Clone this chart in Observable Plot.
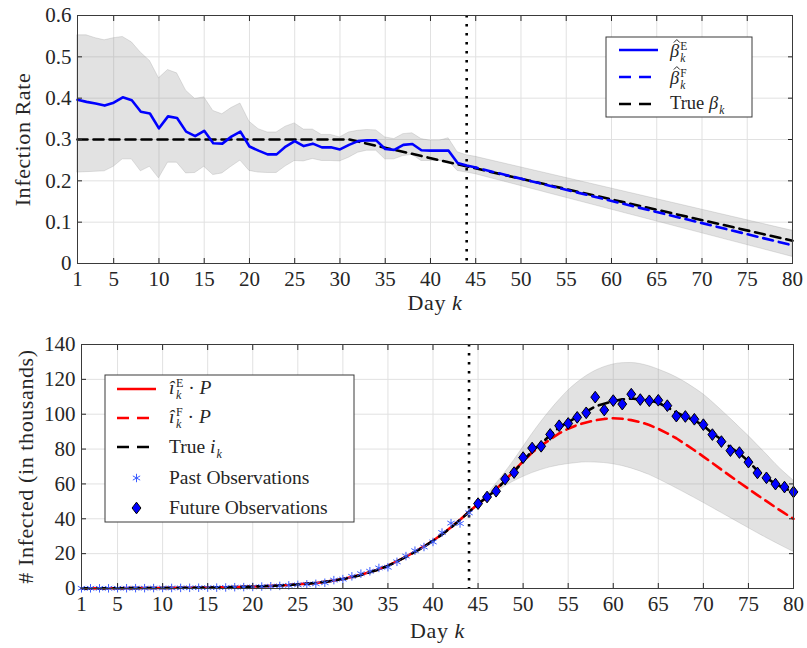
<!DOCTYPE html>
<html><head><meta charset="utf-8">
<script src="https://cdn.jsdelivr.net/npm/d3@7"></script>
<script src="https://cdn.jsdelivr.net/npm/@observablehq/plot@0.6"></script>
<style>
html,body{margin:0;padding:0;background:#fff;}
#wrap{position:relative;width:807px;height:648px;overflow:hidden;background:#fff;}
#wrap svg{display:block;}
#wrap svg text{font-family:"Liberation Serif","DejaVu Serif",serif;}
</style></head><body><div id="wrap"></div>
<script>
const FONT = '"Liberation Serif","DejaVu Serif",serif';
const splitDay = 44;
const xTicks = [1, 5, 10, 15, 20, 25, 30, 35, 40, 45, 50, 55, 60, 65, 70, 75, 80];
const betaTicks = [0, 0.1, 0.2, 0.3, 0.4, 0.5, 0.6];
const infTicks = [0, 20, 40, 60, 80, 100, 120, 140];

// ---- Top panel: infection rate ----
const betaEStart = 1; // days 1..45
const betaE = [0.396, 0.391, 0.387, 0.382, 0.389, 0.402, 0.395, 0.367, 0.363, 0.327,
  0.356, 0.352, 0.319, 0.308, 0.321, 0.291, 0.290, 0.307, 0.319, 0.283,
  0.273, 0.264, 0.264, 0.283, 0.296, 0.284, 0.290, 0.281, 0.281, 0.276,
  0.287, 0.296, 0.298, 0.298, 0.277, 0.275, 0.287, 0.289, 0.274, 0.273,
  0.273, 0.273, 0.243, 0.237, 0.232];
const betaFDays = [45, 80];
const betaF = [0.232, 0.044];
const trueBetaDays = [1, 31, 80];
const trueBeta = [0.3, 0.3, 0.055];
const betaBandDays = [1, 2, 3, 4, 5, 6, 7, 8, 9, 10, 11, 12, 13, 14, 15, 16, 17, 18, 19, 20,
  21, 22, 23, 24, 25, 26, 27, 28, 29, 30, 31, 32, 33, 34, 35, 36, 37, 38, 39, 40,
  41, 42, 43, 44, 45, 80];
const betaUpper = [0.552, 0.552, 0.545, 0.540, 0.545, 0.548, 0.535, 0.510, 0.490, 0.448,
  0.468, 0.460, 0.418, 0.398, 0.402, 0.369, 0.361, 0.376, 0.387, 0.343,
  0.325, 0.317, 0.317, 0.331, 0.339, 0.324, 0.324, 0.311, 0.311, 0.305,
  0.317, 0.321, 0.323, 0.322, 0.305, 0.301, 0.313, 0.315, 0.301, 0.297,
  0.297, 0.303, 0.269, 0.262, 0.258, 0.079];
const betaLower = [0.220, 0.221, 0.222, 0.223, 0.234, 0.252, 0.252, 0.223, 0.234, 0.206,
  0.244, 0.244, 0.218, 0.219, 0.234, 0.214, 0.218, 0.234, 0.249, 0.224,
  0.220, 0.219, 0.219, 0.235, 0.248, 0.247, 0.253, 0.248, 0.248, 0.247,
  0.256, 0.268, 0.273, 0.273, 0.252, 0.252, 0.260, 0.263, 0.248, 0.248,
  0.248, 0.248, 0.224, 0.220, 0.216, 0.016];

// ---- Bottom panel: infected (thousands) ----
const pastStart = 1; // days 1..44
const pastObs = [0.1, 0.1, 0.1, 0.1, 0.15, 0.15, 0.2, 0.2, 0.25, 0.3,
  0.3, 0.35, 0.4, 0.45, 0.5, 0.5, 0.6, 0.75, 0.8, 0.9,
  1.1, 1.3, 1.5, 1.8, 2.1, 2.4, 2.7, 3.3, 4.8, 5.4,
  7.0, 8.5, 9.9, 11.8, 12.2, 15.3, 18.6, 21.7, 23.8, 26.7,
  32.1, 37.5, 37.3, 43.4];
const futureStart = 45; // days 45..80
const futureObs = [48.7, 52.5, 55.8, 62.8, 66.5, 75.1, 80.6, 81.6, 88.4, 93.4,
  94.7, 98.2, 100.8, 109.8, 102.4, 107.8, 105.8, 111.5, 108.4, 107.7,
  108.0, 104.9, 98.9, 98.7, 97.1, 94.0, 88.3, 84.3, 79.1, 78.0,
  72.5, 66.3, 63.5, 59.9, 58.2, 55.4];
const iEStart = 1; // days 1..44
const iE = [0.1, 0.1, 0.1, 0.15, 0.15, 0.2, 0.2, 0.25, 0.3, 0.3,
  0.35, 0.4, 0.45, 0.5, 0.6, 0.65, 0.75, 0.85, 1.0, 1.1,
  1.3, 1.5, 1.75, 2.0, 2.4, 2.8, 3.2, 3.8, 4.6, 5.5,
  6.6, 7.9, 9.4, 11.1, 13.1, 15.6, 18.3, 21.1, 24.1, 27.4,
  31.1, 35.1, 39.4, 44.0];
const iFStart = 44; // days 44..80
const iF = [44.0, 48.5, 52.5, 57.0, 62.0, 67.5, 73.0, 78.0, 82.0, 85.5,
  89.0, 91.7, 93.8, 95.3, 96.5, 97.3, 97.7, 97.4, 96.6, 95.5,
  93.8, 91.6, 89.0, 86.2, 82.8, 79.3, 75.7, 72.0, 68.2, 64.5,
  60.8, 57.2, 53.6, 50.1, 46.6, 43.2, 40.0];
const trueIStart = 1; // days 1..80
const trueI = [0.1, 0.1, 0.1, 0.15, 0.15, 0.2, 0.2, 0.25, 0.3, 0.3,
  0.35, 0.4, 0.45, 0.5, 0.6, 0.65, 0.75, 0.85, 1.0, 1.1,
  1.3, 1.5, 1.75, 2.0, 2.4, 2.8, 3.2, 3.8, 4.5, 5.4,
  6.5, 7.8, 9.3, 11.0, 13.0, 15.5, 18.2, 21.0, 24.0, 27.3,
  31.0, 35.0, 39.3, 44.0, 48.5, 52.5, 56.5, 62.0, 67.0, 73.0,
  79.0, 83.0, 88.0, 92.5, 95.5, 98.5, 101.5, 104.5, 106.0, 107.5,
  108.5, 109.0, 108.5, 108.0, 106.5, 104.0, 101.0, 98.5, 96.5, 93.5,
  89.0, 85.5, 81.0, 77.5, 73.0, 67.5, 63.5, 60.0, 57.5, 55.5];
const bandStart = 44; // days 44..80
const iUpper = [44.0, 49.0, 54.0, 60.0, 66.5, 73.5, 81.0, 88.5, 95.5, 102.0,
  108.0, 113.5, 118.0, 121.8, 124.8, 127.0, 128.5, 129.3, 129.4, 128.8,
  127.5, 125.7, 123.6, 121.2, 118.3, 115.0, 111.4, 107.0, 102.3, 97.5,
  92.5, 87.6, 82.3, 77.0, 71.5, 66.5, 62.0];
const iLower = [44.0, 47.5, 51.5, 55.0, 58.5, 61.5, 64.0, 66.2, 68.0, 69.5,
  70.6, 71.4, 72.0, 72.4, 72.3, 72.0, 71.3, 70.3, 68.9, 67.2,
  65.2, 62.8, 60.2, 57.5, 54.8, 52.0, 49.2, 46.3, 43.4, 40.5,
  37.6, 34.7, 31.8, 29.0, 26.3, 23.6, 21.0];

const BLUE = "#0000ff", RED = "#ff0000", GRID = "#e1e1e1", FRAME = "#3a3a3a", TXT = "#262626";
const DASH = "10,6";

const diamondSym = {
  draw(ctx, size) {
    const s = Math.sqrt(size), w = s * 0.5, h = s * 0.66;
    ctx.moveTo(0, -h); ctx.lineTo(w, 0); ctx.lineTo(0, h); ctx.lineTo(-w, 0); ctx.closePath();
  }
};

function axes(ticks, yTicks, xLabel, yLabel, yOff, xOff) {
  const fmt = d => String(d);
  return [
    Plot.axisX({ticks, tickSize: -5, tickPadding: 13, tickFormat: fmt, label: xLabel, labelAnchor: "center", labelOffset: xOff, labelArrow: "none"}),
    Plot.axisX({ticks, anchor: "top", tickSize: -5, tickFormat: () => "", label: null}),
    Plot.axisY({ticks: yTicks, tickSize: -5, tickPadding: 11, tickFormat: fmt, label: yLabel, labelAnchor: "center", labelOffset: yOff, labelArrow: "none"}),
    Plot.axisY({ticks: yTicks, anchor: "right", tickSize: -5, tickFormat: () => "", label: null}),
  ];
}

const styleObj = {fontFamily: FONT, fontSize: "21px", color: TXT, background: "#fff", overflow: "visible"};

const topPlot = Plot.plot({
  width: 807, height: 320,
  marginTop: 15, marginRight: 15, marginBottom: 57, marginLeft: 77,
  style: styleObj,
  x: {domain: [1, 80]},
  y: {domain: [0, 0.6]},
  marks: [
    Plot.gridX(xTicks, {stroke: GRID, strokeOpacity: 1}),
    Plot.gridY(betaTicks, {stroke: GRID, strokeOpacity: 1}),
    Plot.areaY(betaBandDays, {x: d => d, y1: (d, i) => betaLower[i], y2: (d, i) => betaUpper[i],
      fill: "#8a8a8a", fillOpacity: 0.25, stroke: "#9a9a9a", strokeOpacity: 0.35, strokeWidth: 0.8}),
    Plot.line(trueBeta, {x: (d, i) => trueBetaDays[i], y: d => d, stroke: "#000", strokeWidth: 2.6, strokeDasharray: DASH}),
    Plot.line(betaE, {x: (d, i) => betaEStart + i, y: d => d, stroke: BLUE, strokeWidth: 2.6}),
    Plot.line(betaF, {x: (d, i) => betaFDays[i], y: d => d, stroke: BLUE, strokeWidth: 2.6, strokeDasharray: DASH, strokeDashoffset: 8}),
    Plot.ruleX([splitDay], {stroke: "#000", strokeWidth: 2.6, strokeDasharray: "2.6,6.4"}),
    ...axes(xTicks, betaTicks, "Day k", "Infection Rate", 63, 46),
    Plot.frame({stroke: FRAME, strokeWidth: 1})
  ]
});

const botPlot = Plot.plot({
  width: 807, height: 328,
  marginTop: 24, marginRight: 14, marginBottom: 60, marginLeft: 81,
  style: styleObj,
  x: {domain: [1, 80]},
  y: {domain: [0, 140]},
  marks: [
    Plot.gridX(xTicks, {stroke: GRID, strokeOpacity: 1}),
    Plot.gridY(infTicks, {stroke: GRID, strokeOpacity: 1}),
    Plot.areaY(iUpper, {x: (d, i) => bandStart + i, y1: (d, i) => iLower[i], y2: d => d,
      fill: "#8a8a8a", fillOpacity: 0.25, stroke: "#9a9a9a", strokeOpacity: 0.35, strokeWidth: 0.8, curve: "monotone-x"}),
    Plot.ruleX([splitDay], {stroke: "#000", strokeWidth: 2.6, strokeDasharray: "2.6,6.4"}),
    Plot.line(iE, {x: (d, i) => iEStart + i, y: d => d, stroke: RED, strokeWidth: 2.6}),
    Plot.line(iF, {x: (d, i) => iFStart + i, y: d => d, stroke: RED, strokeWidth: 2.6, strokeDasharray: DASH}),
    Plot.line(trueI, {x: (d, i) => trueIStart + i, y: d => d, stroke: "#000", strokeWidth: 2.6, strokeDasharray: DASH}),
    Plot.dot(pastObs, {x: (d, i) => pastStart + i, y: d => d, symbol: "asterisk", r: 4, stroke: "#3a5cff", strokeWidth: 1}),
    Plot.dot(futureObs, {x: (d, i) => futureStart + i, y: d => d, symbol: diamondSym, r: 5, fill: BLUE, stroke: "#000", strokeWidth: 1}),
    ...axes(xTicks, infTicks, "Day k", "# Infected (in thousands)", 64, 49),
    Plot.frame({stroke: FRAME, strokeWidth: 1})
  ]
});

const wrap = document.getElementById("wrap");
wrap.appendChild(topPlot);
wrap.appendChild(botPlot);

// style axis labels (italic k, slightly larger)
for (const p of [topPlot, botPlot]) {
  d3.select(p).selectAll('g[aria-label="x-axis label"] text').each(function () {
    const t = d3.select(this);
    t.text("Day ").attr("font-size", 22).attr("letter-spacing", 0.6);
    t.append("tspan").attr("font-style", "italic").text("k");
  });
  d3.select(p).selectAll('g[aria-label="y-axis label"] text').attr("font-size", 22).attr("letter-spacing", 0.6);
}

// ---- legends ----
function rich(g, x, y, segs, fs) {
  let cx = x;
  for (const s of segs) {
    if (s.stack) {
      const ws = s.stack.map(([txt, it, dy]) => {
        if (!txt) return 0;
        const t = g.append("text").attr("x", cx).attr("y", y + dy).attr("font-size", fs * 0.62)
          .attr("font-style", it ? "italic" : "normal").attr("fill", TXT).text(txt);
        return t.node().getComputedTextLength();
      });
      cx += Math.max(...ws);
    } else {
      const t = g.append("text").attr("x", cx).attr("y", y).attr("font-size", fs)
        .attr("font-style", s.it ? "italic" : "normal").attr("fill", TXT).text(s.t);
      const w = t.node().getComputedTextLength();
      if (s.hat) {
        // circumflex accent drawn as a small stroke above the glyph
        const hx = cx + w / 2 + fs * 0.12, hy = y - fs * 0.78;
        g.append("path").attr("d", `M${hx - 3},${hy} L${hx},${hy - 3} L${hx + 3},${hy}`)
          .attr("fill", "none").attr("stroke", TXT).attr("stroke-width", 1);
      }
      cx += w + (s.gap || 0);
    }
  }
}

function legend(svg, offY, box, rows, fs) {
  const g = d3.select(svg).append("g").attr("text-anchor", "start");
  g.append("rect").attr("x", box.x).attr("y", box.y - offY).attr("width", box.w).attr("height", box.h)
    .attr("fill", "#fff").attr("stroke", FRAME).attr("stroke-width", 1);
  for (const r of rows) {
    const ly = r.ly - offY;
    if (r.line) {
      g.append("line").attr("x1", box.x1).attr("x2", box.x2).attr("y1", ly).attr("y2", ly)
        .attr("stroke", r.line.color).attr("stroke-width", 2.6).attr("stroke-dasharray", r.line.dash || null);
    }
    if (r.marker === "asterisk") {
      const sym = d3.symbol(d3.symbolAsterisk, 50)();
      g.append("path").attr("d", sym).attr("transform", `translate(${(box.x1 + box.x2) / 2},${ly})`)
        .attr("stroke", "#3a5cff").attr("fill", "none").attr("stroke-width", 1);
    }
    if (r.marker === "diamond") {
      const sym = d3.symbol(diamondSym, 78.5)();
      g.append("path").attr("d", sym).attr("transform", `translate(${(box.x1 + box.x2) / 2},${ly})`)
        .attr("stroke", "#000").attr("fill", BLUE).attr("stroke-width", 1);
    }
    rich(g, box.tx, r.by - offY, r.segs, fs);
  }
}

const sup = (t) => [t, false, -7.5];
const sub = (t) => [t, true, 5];

legend(topPlot, 0, {x: 606, y: 37, w: 146, h: 80, x1: 619, x2: 658, tx: 670}, [
  {ly: 50, by: 57, line: {color: BLUE}, segs: [{t: "β", it: true, hat: true, gap: 1}, {stack: [sup("E"), sub("k")]}]},
  {ly: 77, by: 84, line: {color: BLUE, dash: "12,8"}, segs: [{t: "β", it: true, hat: true, gap: 1}, {stack: [sup("F"), sub("k")]}]},
  {ly: 104, by: 109, line: {color: "#000", dash: "12,8"}, segs: [{t: "True "}, {t: "β", it: true, gap: 1}, {stack: [["", false, 0], sub("k")]}]}
], 18.5);

legend(botPlot, 320, {x: 105, y: 375, w: 249, h: 147, x1: 117, x2: 156, tx: 169}, [
  {ly: 389, by: 394, line: {color: RED}, segs: [{t: "î", it: true, gap: 1.5}, {stack: [sup("E"), sub("k")]}, {t: " · "}, {t: "P", it: true}]},
  {ly: 418, by: 423, line: {color: RED, dash: "12,8"}, segs: [{t: "î", it: true, gap: 1.5}, {stack: [sup("F"), sub("k")]}, {t: " · "}, {t: "P", it: true}]},
  {ly: 447, by: 453, line: {color: "#000", dash: "12,8"}, segs: [{t: "True "}, {t: "i", it: true, gap: 1}, {stack: [["", false, 0], sub("k")]}]},
  {ly: 478, by: 484, marker: "asterisk", segs: [{t: "Past Observations"}]},
  {ly: 508, by: 514, marker: "diamond", segs: [{t: "Future Observations"}]}
], 19.5);
</script>
</body></html>
